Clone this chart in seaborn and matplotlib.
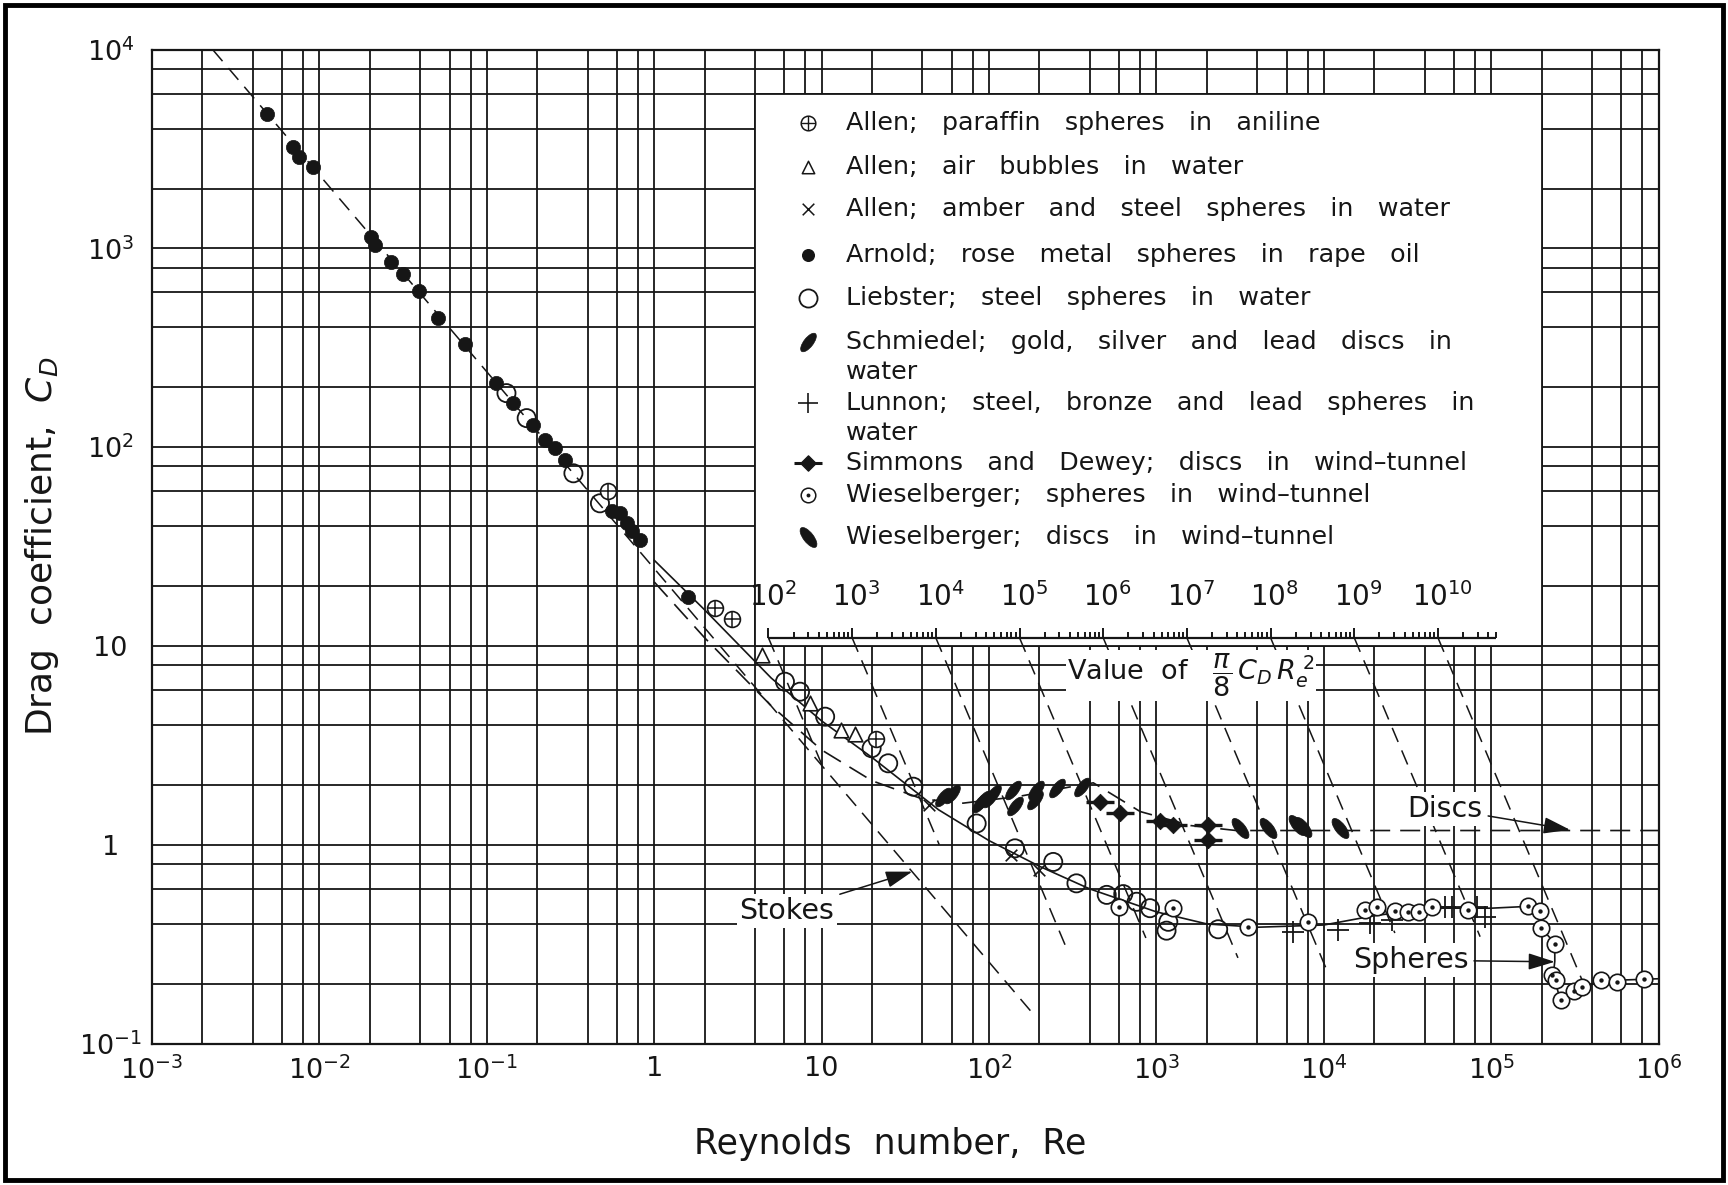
import numpy as np
import pandas as pd
import matplotlib
matplotlib.use("Agg")
import matplotlib.pyplot as plt
import seaborn as sns
from matplotlib.markers import MarkerStyle
from matplotlib.transforms import Affine2D
from matplotlib.patches import Rectangle
from matplotlib.ticker import FixedLocator, FixedFormatter, LogLocator, NullFormatter

# ---------------- tick labels ----------------
x_tick_values = [1e-3, 1e-2, 1e-1, 1, 10, 1e2, 1e3, 1e4, 1e5, 1e6]
x_tick_labels = [r"$10^{-3}$", r"$10^{-2}$", r"$10^{-1}$", "1", "10",
                 r"$10^{2}$", r"$10^{3}$", r"$10^{4}$", r"$10^{5}$", r"$10^{6}$"]
y_tick_values = [1e-1, 1, 10, 1e2, 1e3, 1e4]
y_tick_labels = [r"$10^{-1}$", "1", "10", r"$10^{2}$", r"$10^{3}$", r"$10^{4}$"]

allen_paraffin_re = [0.53, 2.3, 2.9, 21]
allen_paraffin_cd = [60, 15.5, 13.6, 3.4]

allen_bubbles_re = [4.4, 8.5, 13.0, 15.8]
allen_bubbles_cd = [9.0, 5.15, 3.8, 3.62]

allen_amber_re = [44, 136, 200]
allen_amber_cd = [1.59, 0.89, 0.75]

arnold_re = [0.00488, 0.00692, 0.00758, 0.0091, 0.0202, 0.0215, 0.0266, 0.0314,
             0.0391, 0.0513, 0.0741, 0.1135, 0.144, 0.190, 0.223, 0.255, 0.293,
             0.56, 0.624, 0.684, 0.74, 0.822, 1.60]
arnold_cd = [4746, 3223, 2893, 2577, 1145, 1041, 851, 743,
             612, 444, 330, 210, 166, 129, 109, 98.6, 86.3,
             48, 46.5, 41.4, 38, 34.1, 17.7]

liebster_re = [0.131, 0.173, 0.329, 0.474, 6.04, 7.43, 10.5, 19.9, 25.0, 35.3,
               84.4, 143, 242, 333, 505, 634, 762, 916, 1178, 1150, 2340]
liebster_cd = [187, 140, 73.9, 52.2, 6.61, 5.89, 4.41, 3.06, 2.57, 1.96,
               1.28, 0.96, 0.82, 0.64, 0.56, 0.565, 0.517, 0.48, 0.41, 0.37, 0.376]

schmiedel_re = [53, 60, 88, 101, 92, 106, 140, 143, 192, 188, 254, 357]
schmiedel_cd = [1.74, 1.81, 1.62, 1.71, 1.68, 1.81, 1.89, 1.56, 1.89, 1.68, 1.92, 1.96]

lunnon_re = [6570, 12200, 18900, 25500, 53000, 58000, 82000, 91700]
lunnon_cd = [0.365, 0.373, 0.404, 0.419, 0.485, 0.488, 0.488, 0.435]

simmons_re = [460, 606, 1050, 1262, 2040, 2040]
simmons_cd = [1.65, 1.44, 1.31, 1.26, 1.26, 1.06]

wies_spheres_re = [597, 1262, 3540, 8070, 17600, 20700, 26600, 32000, 37200, 44200,
                   72900, 165000, 196000, 198000, 240000, 231000, 245000, 260000,
                   314000, 350000, 453000, 561000, 822000]
wies_spheres_cd = [0.488, 0.479, 0.388, 0.41, 0.47, 0.488, 0.466, 0.461, 0.461, 0.488,
                   0.47, 0.495, 0.463, 0.38, 0.317, 0.221, 0.209, 0.165,
                   0.185, 0.192, 0.209, 0.205, 0.211]

wies_discs_re = [3160, 4660, 6890, 7550, 12500]
wies_discs_cd = [1.21, 1.21, 1.26, 1.23, 1.22]

# ---------------- curves ----------------
stokes_re = [0.0023, 185]
stokes_cd = [10000, 0.14]

sphere_re = [1.0, 2.0, 5.0, 10, 20, 50, 100, 200, 400, 1000, 2000, 4000, 1e4, 2e4,
             4.5e4, 1e5, 1.65e5, 1.96e5, 2.0e5, 2.4e5, 2.4e5, 2.35e5, 2.6e5, 3.3e5,
             4.5e5, 1e6]
sphere_cd = [27, 15.2, 6.9, 4.2, 2.75, 1.5, 1.05, 0.78, 0.60, 0.46, 0.40, 0.385,
             0.395, 0.44, 0.48, 0.48, 0.49, 0.46, 0.38, 0.32, 0.26, 0.22, 0.165,
             0.185, 0.207, 0.212]

disc_re = [1.0, 2.0, 5.0, 10, 20, 40, 70, 150, 300, 420, 800, 1600, 3000, 1e4, 1e5, 1e6]
disc_cd = [21, 11, 5.0, 3.0, 2.1, 1.7, 1.62, 1.75, 1.95, 2.05, 1.47, 1.25, 1.18,
           1.18, 1.18, 1.18]

# lines of constant (pi/8) C_D Re^2
v_values = [1e2, 1e3, 1e4, 1e5, 1e6, 1e7, 1e8, 1e9, 1e10]
v_labels = [r"$10^{2}$", r"$10^{3}$", r"$10^{4}$", r"$10^{5}$", r"$10^{6}$",
            r"$10^{7}$", r"$10^{8}$", r"$10^{9}$", r"$10^{10}$"]
v_line_end_cd = [2.4, 1.0, 0.30, 0.34, 0.27, 0.235, 0.36, 0.345, 0.19]
v_axis_cd = 11.0
v_axis_max = 5e10

legend_rows = [
    ("paraffin", ["Allen; paraffin spheres in aniline"]),
    ("bubbles", ["Allen; air bubbles in water"]),
    ("amber", ["Allen; amber and steel spheres in water"]),
    ("arnold", ["Arnold; rose metal spheres in rape oil"]),
    ("liebster", ["Liebster; steel spheres in water"]),
    ("schmiedel", ["Schmiedel; gold, silver and lead discs in", "water"]),
    ("lunnon", ["Lunnon; steel, bronze and lead spheres in", "water"]),
    ("simmons", ["Simmons and Dewey; discs in wind\u2013tunnel"]),
    ("wsph", ["Wieselberger; spheres in wind\u2013tunnel"]),
    ("wdisc", ["Wieselberger; discs in wind\u2013tunnel"]),
]

# ---------------- style ----------------
sns.set_theme(style="white")
plt.rcParams['font.family'] = ['DejaVu Sans']
plt.rcParams['mathtext.fontset'] = 'dejavusans'
INK = '#161616'

def spaced(s, n):
    return s.replace(" ", " " * n)

fig = plt.figure(figsize=(17.28, 11.85), dpi=100)
ax = fig.add_axes([0.0880, 0.1193, 0.8718, 0.8389])
ax.set_xscale('log')
ax.set_yscale('log')
ax.set_xlim(1e-3, 1e6)
ax.set_ylim(1e-1, 1e4)

ax.xaxis.set_major_locator(FixedLocator(x_tick_values))
ax.xaxis.set_major_formatter(FixedFormatter(x_tick_labels))
ax.yaxis.set_major_locator(FixedLocator(y_tick_values))
ax.yaxis.set_major_formatter(FixedFormatter(y_tick_labels))
ax.xaxis.set_minor_locator(LogLocator(base=10, subs=(2, 4, 6, 8), numticks=60))
ax.yaxis.set_minor_locator(LogLocator(base=10, subs=(2, 4, 6, 8), numticks=60))
ax.xaxis.set_minor_formatter(NullFormatter())
ax.yaxis.set_minor_formatter(NullFormatter())
ax.grid(True, which='both', color=INK, lw=1.3)
ax.set_axisbelow(True)
ax.tick_params(which='both', length=0)
ax.tick_params(axis='x', pad=9, labelsize=19.5, labelcolor=INK)
ax.tick_params(axis='y', pad=30, labelsize=19.5, labelcolor=INK)
for lab in ax.get_yticklabels():
    lab.set_ha('center')
for s in ax.spines.values():
    s.set_color(INK)
    s.set_linewidth(1.6)

ax.set_xlabel(spaced("Reynolds number, Re", 2), fontsize=25, color=INK)
ax.xaxis.set_label_coords(0.49, -0.084)
ax.xaxis.label.set_va('top')
ax.set_ylabel("Drag  coefficient,  $C_D$", fontsize=26, color=INK)
ax.yaxis.set_label_coords(-0.073, 0.5)
ax.yaxis.label.set_va('center')

# white legend / scale box (aligned to the grid)
box = Rectangle((4, 10), 2e5 - 4, 6000 - 10, facecolor='white', edgecolor=INK,
                lw=1.3, zorder=1)
ax.add_patch(box)

# ---------------- curves ----------------
dash = (0, (10, 6))
sns.lineplot(x=stokes_re, y=stokes_cd, ax=ax, color=INK, lw=1.1, linestyle=dash,
             estimator=None, sort=False, zorder=2)
sns.lineplot(x=sphere_re, y=sphere_cd, ax=ax, color=INK, lw=1.2,
             estimator=None, sort=False, zorder=2)
sns.lineplot(x=disc_re, y=disc_cd, ax=ax, color=INK, lw=1.2, linestyle=(0, (12, 6)),
             estimator=None, sort=False, zorder=2)

# V axis and constant-V lines
v_re = [np.sqrt(8 * v / (np.pi * v_axis_cd)) for v in v_values]
for v, r0, cd_end in zip(v_values, v_re, v_line_end_cd):
    r1 = np.sqrt(8 * v / (np.pi * cd_end))
    sns.lineplot(x=[r0, r1], y=[v_axis_cd, cd_end], ax=ax, color=INK, lw=1.1,
                 linestyle=dash, estimator=None, sort=False, zorder=2)

v_end_re = np.sqrt(8 * v_axis_max / (np.pi * v_axis_cd))
ax.plot([v_re[0], v_end_re], [v_axis_cd, v_axis_cd], color=INK, lw=1.6, zorder=3,
        solid_capstyle='butt')
minor_v = [k * 10.0 ** n for n in range(2, 11) for k in range(2, 10) if k * 10.0 ** n <= v_axis_max]
minor_re = [np.sqrt(8 * v / (np.pi * v_axis_cd)) for v in minor_v]
ax.vlines(minor_re, v_axis_cd, v_axis_cd * 1.075, color=INK, lw=1.4, zorder=3)
ax.vlines(v_re, v_axis_cd, v_axis_cd * 1.12, color=INK, lw=1.4, zorder=3)
for r, lab in zip(v_re, v_labels):
    ax.text(r * 1.06, 15.8, lab, ha='center', va='baseline', fontsize=20, color=INK, zorder=4)

ax.text(1615, 7.1, r"Value  of   $\dfrac{\pi}{8}\,C_D\,R_e^{\;2}$", ha='center', va='center',
        fontsize=19.5, color=INK, zorder=4,
        bbox=dict(facecolor='white', edgecolor='none', pad=1))

# ---------------- markers ----------------
leaf_right = MarkerStyle('o', transform=Affine2D().scale(0.42, 1.0).rotate_deg(-38))
leaf_left = MarkerStyle('o', transform=Affine2D().scale(0.42, 1.0).rotate_deg(38))

def sc(x, y, **kw):
    sns.scatterplot(x=x, y=y, ax=ax, legend=False, zorder=kw.pop('zorder', 5), **kw)

sc(arnold_re, arnold_cd, marker='o', s=105, color=INK, edgecolor=INK, linewidth=0.5)
sc(liebster_re, liebster_cd, marker='o', s=170, color=INK, facecolor='none',
   edgecolor=INK, linewidth=1.3)
sc(allen_paraffin_re, allen_paraffin_cd, marker='o', s=130, color=INK, facecolor='white',
   edgecolor=INK, linewidth=1.2)
sc(allen_paraffin_re, allen_paraffin_cd, marker='+', s=130, color=INK, linewidth=1.1, zorder=6)
sc(allen_bubbles_re, allen_bubbles_cd, marker='^', s=110, color=INK, facecolor='white',
   edgecolor=INK, linewidth=1.2)
sc(allen_amber_re, allen_amber_cd, marker='x', s=70, color=INK, linewidth=1.2)
sc(schmiedel_re, schmiedel_cd, marker=leaf_right, s=260, color=INK, edgecolor=INK,
   linewidth=0.6)
sc(lunnon_re, lunnon_cd, marker='+', s=260, color=INK, linewidth=1.3)
sc(simmons_re, simmons_cd, marker='D', s=70, color=INK, edgecolor=INK, linewidth=0.6)
sc(simmons_re, simmons_cd, marker='_', s=420, color=INK, linewidth=2.4)
sc(wies_spheres_re, wies_spheres_cd, marker='o', s=140, color=INK, facecolor='white',
   edgecolor=INK, linewidth=1.2)
sc(wies_spheres_re, wies_spheres_cd, marker='o', s=10, color=INK, edgecolor=INK,
   linewidth=0, zorder=6)
sc(wies_discs_re, wies_discs_cd, marker=leaf_left, s=300, color=INK, edgecolor=INK,
   linewidth=0.6)

# ---------------- annotations ----------------
arrow = dict(arrowstyle='-|>,head_length=0.8,head_width=0.25', color=INK, lw=1.1,
             shrinkA=2, shrinkB=0)
ax.annotate("Stokes", xy=(34.8, 0.733), xytext=(6.2, 0.466), fontsize=20.5, color=INK,
            ha='center', va='center', arrowprops=arrow, zorder=7,
            bbox=dict(facecolor='white', edgecolor='none', pad=2))
ax.annotate("Discs", xy=(2.96e5, 1.19), xytext=(5.3e4, 1.52), fontsize=20.5, color=INK,
            ha='center', va='center', arrowprops=arrow, zorder=7,
            bbox=dict(facecolor='white', edgecolor='none', pad=2))
ax.annotate("Spheres", xy=(2.4e5, 0.258), xytext=(3.3e4, 0.263), fontsize=20.5, color=INK,
            ha='center', va='center', arrowprops=arrow, zorder=7,
            bbox=dict(facecolor='white', edgecolor='none', pad=2))

# ---------------- legend (inside the white box) ----------------
row_y = [0.9259, 0.8822, 0.8396, 0.7934, 0.7498, 0.7061, 0.6441, 0.5838, 0.5519, 0.5100]
second_line_gap = 0.0301
mx, tx = 0.4357, 0.4609
tr = ax.transAxes
key_style = {
    "paraffin": [dict(marker='o', s=110, facecolor='white', edgecolor=INK, linewidth=1.1),
                 dict(marker='+', s=110, color=INK, linewidth=1.0)],
    "bubbles": [dict(marker='^', s=80, facecolor='white', edgecolor=INK, linewidth=1.1)],
    "amber": [dict(marker='x', s=70, color=INK, linewidth=1.1)],
    "arnold": [dict(marker='o', s=70, color=INK, edgecolor=INK)],
    "liebster": [dict(marker='o', s=170, facecolor='white', edgecolor=INK, linewidth=1.3)],
    "schmiedel": [dict(marker=leaf_right, s=260, color=INK, edgecolor=INK, linewidth=0.5)],
    "lunnon": [dict(marker='+', s=220, color=INK, linewidth=1.2)],
    "simmons": [dict(marker='D', s=60, color=INK, edgecolor=INK),
                dict(marker='_', s=380, color=INK, linewidth=2.2)],
    "wsph": [dict(marker='o', s=110, facecolor='white', edgecolor=INK, linewidth=1.1),
             dict(marker='o', s=8, color=INK, linewidth=0)],
    "wdisc": [dict(marker=leaf_left, s=300, color=INK, edgecolor=INK, linewidth=0.5)],
}
for (key, lines), y in zip(legend_rows, row_y):
    for st in key_style[key]:
        ax.scatter([mx], [y], transform=tr, zorder=8, clip_on=False, **st)
    for i, line in enumerate(lines):
        ax.text(tx, y - i * second_line_gap, spaced(line, 3), transform=tr, fontsize=18.3,
                color=INK, ha='left', va='center', zorder=8)

ax.set_xlim(1e-3, 1e6)
ax.set_ylim(1e-1, 1e4)

# outer frame
fig.patches.append(Rectangle((0.003, 0.004), 0.994, 0.992, transform=fig.transFigure,
                             fill=False, edgecolor='black', lw=3.5))

fig.savefig("out.png", dpi=100, facecolor='white')
